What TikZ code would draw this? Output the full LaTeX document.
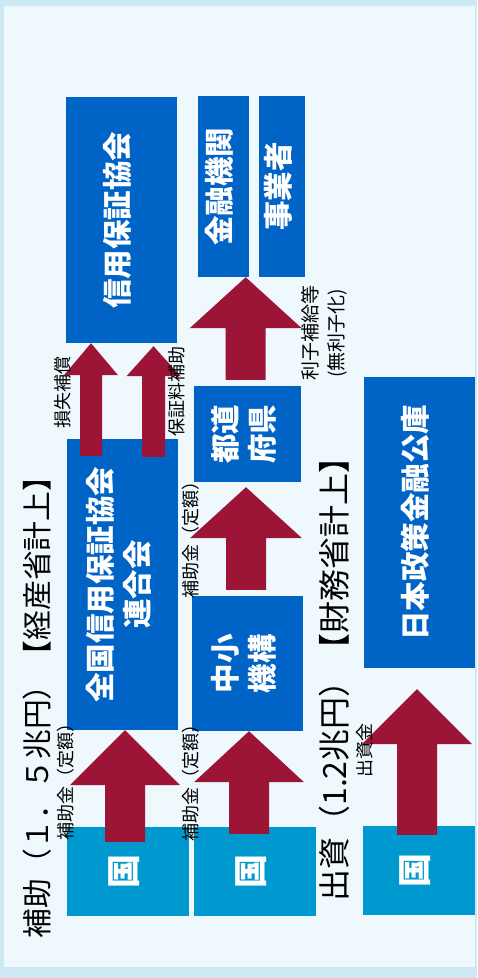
\documentclass[tikz,border=0pt]{standalone}
\usepackage{fontspec}
\setmainfont{Noto Sans CJK JP}
\usepackage{xcolor}
\usetikzlibrary{calc}
\definecolor{frame}{HTML}{CDEAF4}
\definecolor{panel}{HTML}{EEF8FD}
\definecolor{navy}{HTML}{0063C6}
\definecolor{sky}{HTML}{0099CF}
\definecolor{crimson}{HTML}{9C1537}
\newcommand{\boxfont}{\fontsize{29.5}{37}\selectfont\bfseries}
\newcommand{\kunifont}{\fontsize{34}{40}\selectfont\bfseries}
\newcommand{\labfont}{\fontsize{18}{24}\selectfont}
\newcommand{\bigfont}{\fontsize{29.8}{34}\selectfont}
\tikzset{
  box/.style={fill=navy, text=white, font=\boxfont, inner sep=0pt},
  kunibox/.style={fill=sky, text=white, font=\kunifont, inner sep=0pt},
  arr/.style={fill=crimson},
  lab/.style={text=black, font=\labfont, inner sep=0pt, rotate=90},
  biglab/.style={text=black, font=\bigfont, inner sep=0pt, rotate=90}
}
\newcommand{\vtext}[1]{\rotatebox{90}{\begin{tabular}{@{}c@{}}#1\end{tabular}}}
% bottom, tip, shaft half width, head half width, head length
\newcommand{\UpArrow}[5]{%
  \fill[arr] ($(#1)+(-#3,0)$) -- ($(#2)+(-#3,#5)$) -- ($(#2)+(-#4,#5)$) -- (#2)
    -- ($(#2)+(#4,#5)$) -- ($(#2)+(#3,#5)$) -- ($(#1)+(#3,0)$) -- cycle;
}

\begin{document}
\begin{tikzpicture}[x=1pt,y=-1pt]
  \useasboundingbox (0,0) rectangle (477,978);
  \fill[frame] (0,0) rectangle (477,978);
  \fill[panel] (4,6) rectangle (475,967);

  % organisations
  \node[box, minimum width=111, minimum height=246] (shinyo) at (121.5,220) {\vtext{信用保証協会}};
  \node[box, minimum width=51, minimum height=181] (kinyu) at (223.5,186.5) {\vtext{金融機関}};
  \node[box, minimum width=46, minimum height=181] (jigyo) at (282,186.5) {\vtext{事業者}};
  \node[box, minimum width=107, minimum height=96] (todofuken) at (247.5,434) {\vtext{都道\\府県}};
  \node[box, minimum width=111, minimum height=291] (zenkoku) at (122.5,584.5) {\vtext{全国信用保証協会\\連合会}};
  \node[box, minimum width=111, minimum height=135] (chusho) at (247.5,663.5) {\vtext{中小\\機構}};
  \node[box, minimum width=111, minimum height=291] (nihon) at (419.5,522.5) {\vtext{日本政策金融公庫}};

  \node[kunibox, minimum width=122, minimum height=89] (kuni1) at (128,871.5) {\vtext{国}};
  \node[kunibox, minimum width=122, minimum height=89] (kuni2) at (255,871.5) {\vtext{国}};
  \node[kunibox, minimum width=112, minimum height=89] (kuni3) at (419,870.5) {\vtext{国}};

  % flows
  \coordinate (a1b) at ($(kuni1.north)+(-3,15)$);
  \coordinate (a1t) at ($(zenkoku.south)+(2.5,0)$);
  \coordinate (a2b) at ($(kuni2.north)+(-6,7)$);
  \coordinate (a2t) at ($(chusho.south)+(1.5,0)$);
  \coordinate (a3b) at ($(kuni3.north)+(-2,9)$);
  \coordinate (a3t) at ($(nihon.south)+(-2.5,21)$);
  \coordinate (a4b) at ($(chusho.north)+(-1.5,-6)$);
  \coordinate (a4t) at ($(todofuken.south)+(-1.5,5)$);
  \coordinate (a5b) at ($(todofuken.north)+(-2,-6)$);
  \coordinate (a5t) at ($(kinyu.south east)+(-3.5,0)$);
  \coordinate (a6b) at ($(zenkoku.north)+(-31.5,17)$);
  \coordinate (a6t) at ($(shinyo.south)+(-30.5,0)$);
  \coordinate (a7b) at ($(zenkoku.north)+(31,18)$);
  \coordinate (a7t) at ($(shinyo.south)+(32,3)$);

  \UpArrow{a1b}{a1t}{20}{55}{55}
  \UpArrow{a2b}{a2t}{20}{55}{51}
  \UpArrow{a3b}{a3t}{20}{55}{55}
  \UpArrow{a4b}{a4t}{20}{56}{51}
  \UpArrow{a5b}{a5t}{20}{56}{51}
  \UpArrow{a6b}{a6t}{11}{27}{32}
  \UpArrow{a7b}{a7t}{11.5}{27}{30}

  % labels
  \node[lab] (sonshitsu) at (63,392) {損失補償};
  \node[lab] (hoshoryo) at (177,391) {保証料補助};
  \node[lab] (hojokin3) at (191,535) {補助金（定額）};
  \node[lab] (hojokin1) at (66,777) {補助金（定額）};
  \node[lab] (hojokin2) at (191,778) {補助金（定額）};
  \node[lab, font=\fontsize{19}{26}\selectfont, align=center] (rishi) at (324,333) {利子補給等\\(無利子化)};
  \node[lab] (shusshikin) at (365,750) {出資金};

  \node[biglab] (hojo) at (37,700) {補助（１．５兆円）【経産省計上】};
  \node[biglab, font=\fontsize{32}{36}\selectfont] (shusshi) at (334,671.5) {出資（1.2兆円）【財務省計上】};
\end{tikzpicture}
\end{document}
